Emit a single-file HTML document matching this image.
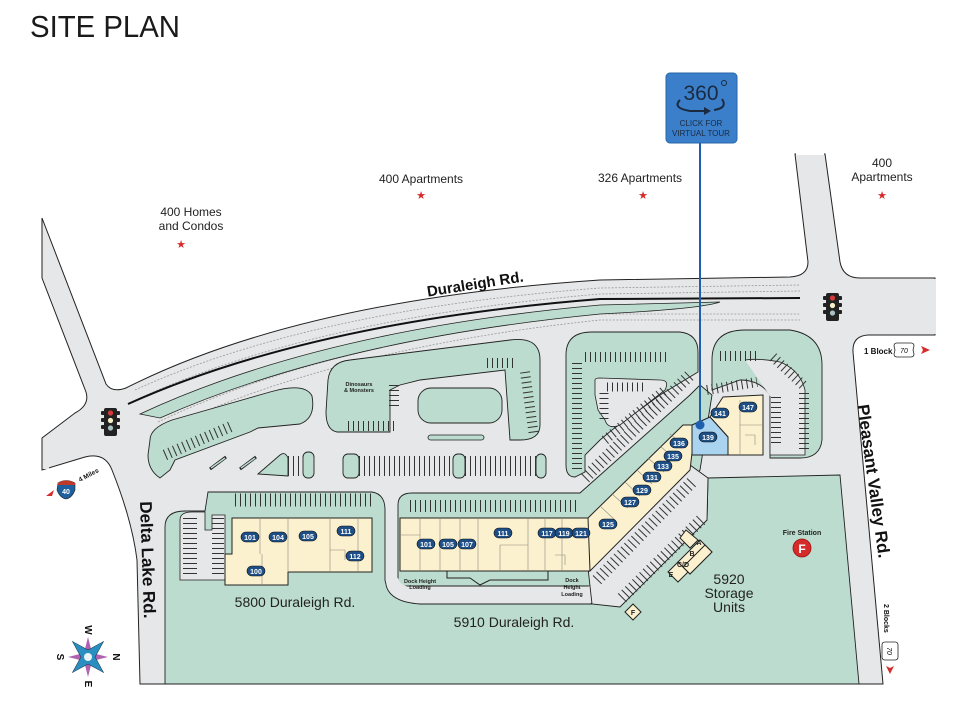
<!DOCTYPE html>
<html><head><meta charset="utf-8"><style>
html,body{margin:0;padding:0;background:#fff}
svg{display:block}
text{font-family:"Liberation Sans",sans-serif}
</style></head><body>
<svg width="980" height="706" viewBox="0 0 980 706" xmlns="http://www.w3.org/2000/svg">
<rect width="980" height="706" fill="#fff"/>
<text x="30" y="37" font-size="31" fill="#1a1a1a" textLength="150" lengthAdjust="spacingAndGlyphs">SITE PLAN</text>

<path d="M42,218 L106,384 Q112,393 126,388 Q300,300 600,280 L790,277 Q808,276 808,262 L795,154 L825,154 L840,262 Q843,278 860,278 L935,278 L935,335 L868,335 Q852,336 853,352 L883,684 L140,684 L137,560 Q132,520 112,470 Q105,452 85,457 L42,470 L42,438 L75,413 Q90,405 86,392 L42,278 Z" fill="#e6e7e8" stroke="#222" stroke-width="1"/>
<rect x="43" y="439" width="6" height="30" fill="#e6e7e8"/>
<rect x="934" y="279" width="2" height="55" fill="#e6e7e8"/>
<rect x="796" y="150" width="28" height="5" fill="#fff"/>

<g fill="none" stroke="#999" stroke-width="0.8" stroke-dasharray="2,1.5">
<path d="M135,390 Q310,310 600,288 L800,285"/>
<path d="M140,398 Q315,318 600,294 L800,291"/>
<path d="M158,422 Q330,340 600,314 L800,314"/>
<path d="M163,430 Q335,348 600,320 L800,320"/>
</g>
<path d="M128,404 Q310,322 600,299 L800,298" fill="none" stroke="#111" stroke-width="2"/>
<path d="M140,414 Q320,330 600,305 L720,302 Q700,309 600,314 Q335,340 160,418 Z" fill="#bcdccf" stroke="#222" stroke-width="0.8"/>

<path d="M165,684 L165,527 Q165,511 185,511 L205,511 L208,492 L372,492 Q385,494 385,510 L385,580 Q388,600 420,603 L600,603 L620,600 L707,520 L708,478 L840,475 L859,684 Z" fill="#bcdccf" stroke="#222" stroke-width="0.9"/>
<path d="M398,505 Q398,493 412,493 L580,493 L690,395 L700,385 L712,395 L700,470 L620,570 L590,586 L398,586 Z" fill="#bcdccf" stroke="#222" stroke-width="0.9"/>
<path d="M398,578 Q400,588 420,588 L585,588 L625,570 L590,604 L420,604 Q390,602 386,585 Z" fill="#e6e7e8"/>
<path d="M386,585 Q390,602 420,604 L595,604" fill="none" stroke="#222" stroke-width="0.9"/>
<path d="M588,568 L690,465 L708,478 L707,520 L620,607 L592,604 Z" fill="#e6e7e8" stroke="#222" stroke-width="0.9"/>
<path d="M180,520 Q180,512 192,512 L205,512 L205,530 L212,530 L212,515 L225,515 L225,580 L180,580 Z" fill="#e6e7e8" stroke="#222" stroke-width="0.8"/>

<path d="M160,478 Q148,470 148,455 L150,440 Q150,428 172,420 L270,392 Q305,382 312,396 Q316,418 300,424 L258,428 L250,432 L175,460 L170,470 Z" fill="#bcdccf" stroke="#222" stroke-width="0.9"/>
<path d="M337,432 Q326,430 326,412 L328,380 Q330,362 350,360 L510,340 Q540,336 540,360 L540,425 Q540,440 520,440 L510,440 L505,370 L420,380 L400,385 L390,390 L390,432 L375,432 Z" fill="#bcdccf" stroke="#222" stroke-width="0.9"/>
<rect x="418" y="388" width="84" height="35" rx="13" fill="#bcdccf" stroke="#222" stroke-width="0.9"/>
<rect x="428" y="435" width="56" height="5" rx="2.5" fill="#bcdccf" stroke="#222" stroke-width="0.8"/>
<path d="M575,477 Q566,477 566,465 L566,355 Q566,332 592,332 L680,332 Q698,334 698,352 L698,372 L660,395 L612,430 L600,440 L585,455 L585,472 Z" fill="#bcdccf" stroke="#222" stroke-width="0.9"/>
<path d="M595,395 L595,380 Q595,378 600,378 L660,380 Q670,380 665,390 L620,425 Q608,430 605,420 L598,410 Z" fill="#e6e7e8" stroke="#222" stroke-width="0.8"/>
<path d="M712,360 Q712,330 745,330 L790,330 Q822,335 822,365 L822,440 Q820,458 800,458 L770,458 L770,395 Q760,380 740,380 L712,390 Z" fill="#bcdccf" stroke="#222" stroke-width="0.9"/>
<path d="M770,396 L770,455 L805,455 L805,390 Q800,370 780,362 Q760,358 745,360" fill="#e6e7e8" stroke="#222" stroke-width="0.8"/>
<rect x="343" y="454" width="16" height="24" rx="5" fill="#bcdccf" stroke="#222" stroke-width="0.9"/>
<rect x="453" y="454" width="12" height="24" rx="5" fill="#bcdccf" stroke="#222" stroke-width="0.9"/>
<rect x="536" y="454" width="10" height="24" rx="5" fill="#bcdccf" stroke="#222" stroke-width="0.9"/>
<rect x="303" y="452" width="11" height="26" rx="5" fill="#bcdccf" stroke="#222" stroke-width="0.9"/>
<path d="M258,474 L280,455 Q285,451 288,458 L288,476 Z" fill="#bcdccf" stroke="#222" stroke-width="0.9"/>
<line x1="210" y1="469" x2="226" y2="457" stroke="#222" stroke-width="3"/><line x1="211" y1="468" x2="225" y2="458" stroke="#bcdccf" stroke-width="1.5"/>
<line x1="240" y1="469" x2="256" y2="457" stroke="#222" stroke-width="3"/><line x1="241" y1="468" x2="255" y2="458" stroke="#bcdccf" stroke-width="1.5"/>

<g stroke="#333" stroke-dasharray="1,4" fill="none">
<line x1="235" y1="500" x2="372" y2="500" stroke-width="13"/>
<line x1="410" y1="506" x2="580" y2="506" stroke-width="12"/>
<line x1="288" y1="466" x2="303" y2="466" stroke-width="20"/>
<line x1="359" y1="466" x2="453" y2="466" stroke-width="20"/>
<line x1="465" y1="466" x2="536" y2="466" stroke-width="20"/>
<line x1="190" y1="518" x2="190" y2="578" stroke-width="14"/>
<line x1="218" y1="518" x2="218" y2="578" stroke-width="12"/>
<line x1="165" y1="455" x2="232" y2="426" stroke-width="11"/>
<line x1="348" y1="426" x2="395" y2="426" stroke-width="10"/>
<line x1="394" y1="385" x2="394" y2="408" stroke-width="10"/>
<line x1="487" y1="363" x2="517" y2="363" stroke-width="10"/>
<line x1="525" y1="372" x2="534" y2="436" stroke-width="10"/>
<line x1="585" y1="357" x2="670" y2="357" stroke-width="10"/>
<line x1="577" y1="363" x2="577" y2="470" stroke-width="10"/>
<line x1="607" y1="387" x2="647" y2="387" stroke-width="9"/>
<line x1="604" y1="393" x2="604" y2="423" stroke-width="9"/>
<line x1="585" y1="478" x2="690" y2="375" stroke-width="12"/>
<line x1="605" y1="440" x2="665" y2="390" stroke-width="10"/>
<line x1="597" y1="580" x2="692" y2="482" stroke-width="12"/>
<line x1="622" y1="598" x2="703" y2="518" stroke-width="12"/>
<line x1="720" y1="356" x2="760" y2="356" stroke-width="10"/>
<line x1="773" y1="357" x2="803" y2="385" stroke-width="10"/>
<line x1="804" y1="393" x2="804" y2="453" stroke-width="10"/>
<line x1="776" y1="397" x2="776" y2="447" stroke-width="10"/>
<line x1="707" y1="390" x2="757" y2="382" stroke-width="10"/>
</g>

<g fill="#fcf1cf" stroke="#222" stroke-width="1">
<path d="M232,518 L372,518 L372,572 L288,572 L288,585 L225,585 L225,554 L232,554 Z"/>
<rect x="400" y="518" width="190" height="53"/>
<path d="M447,571 L548,571 L548,580 L490,580 L480,585 L470,578 L447,578 Z" fill="#bcdccf"/>
<path d="M588,518 L683,425 L692,425 L692,453 L690,470 L590,571 Z"/>
<path d="M710,417 L723,397 L763,395 L763,455 L728,455 L728,437 Z"/>
</g>
<path d="M692,425 L710,417 L728,437 L728,455 L692,455 Z" fill="#a9d3ee" stroke="#222" stroke-width="1"/>
<g stroke="#8a8a80" stroke-width="0.6" fill="none">
<path d="M260,518V554M288,518V572M330,518V572M358,518V572M262,554V585M400,535H420M420,518V571M440,518V571M460,518V571M478,518V571M528,518V571M545,518V571M562,518V571M500,545H528M500,545V571M330,550H345V560M555,555H565V565"/>
<path d="M600,506L615,520M612,494L628,508M625,482L640,496M637,470L652,484M648,458L664,472M660,446L676,460M670,434L686,448M740,400V455M740,425H763M745,435H755V445"/>
</g>
<g fill="#fcf1cf" stroke="#222" stroke-width="1">
<path d="M668,572 L678,562 L688,572 L678,582 Z"/>
<path d="M678,562 L700,540 L712,552 L690,574 Z"/>
<path d="M690,574 L712,552 L705,545 L683,567 Z"/>
<path d="M686,530 L698,540 L690,548 L680,538 Z"/>
<path d="M625,612 L633,604 L641,612 L633,620 Z"/>
</g>
<g font-size="7" font-weight="bold" fill="#222" text-anchor="middle">
<text x="699" y="545">A</text><text x="692" y="556">B</text><text x="683" y="567">C/D</text><text x="671" y="577">E</text><text x="633" y="615">F</text>
</g>

<g font-size="7" font-weight="bold" fill="#fff" text-anchor="middle">
<g fill="#1d4f86" stroke="#111" stroke-width="0.6">
<rect x="241" y="532" width="18" height="10" rx="5"/><rect x="269" y="532" width="18" height="10" rx="5"/><rect x="299" y="531" width="18" height="10" rx="5"/><rect x="337" y="526" width="18" height="10" rx="5"/><rect x="346" y="551" width="18" height="10" rx="5"/><rect x="247" y="566" width="18" height="10" rx="5"/>
<rect x="417" y="539" width="18" height="10" rx="5"/><rect x="439" y="539" width="18" height="10" rx="5"/><rect x="458" y="539" width="18" height="10" rx="5"/><rect x="494" y="528" width="18" height="10" rx="5"/><rect x="538" y="528" width="18" height="10" rx="5"/><rect x="555" y="528" width="18" height="10" rx="5"/><rect x="572" y="528" width="18" height="10" rx="5"/>
<rect x="599" y="519" width="18" height="10" rx="5"/><rect x="621" y="497" width="18" height="10" rx="5"/><rect x="633" y="485" width="18" height="10" rx="5"/><rect x="643" y="472" width="18" height="10" rx="5"/><rect x="654" y="461" width="18" height="10" rx="5"/><rect x="664" y="451" width="18" height="10" rx="5"/><rect x="670" y="438" width="18" height="10" rx="5"/><rect x="699" y="432" width="18" height="10" rx="5"/><rect x="711" y="408" width="18" height="10" rx="5"/><rect x="739" y="402" width="18" height="10" rx="5"/>
</g>
<text x="250" y="540">101</text><text x="278" y="540">104</text><text x="308" y="539">105</text><text x="346" y="534">111</text><text x="355" y="559">112</text><text x="256" y="574">100</text>
<text x="426" y="547">101</text><text x="448" y="547">105</text><text x="467" y="547">107</text><text x="503" y="536">111</text><text x="547" y="536">117</text><text x="564" y="536">119</text><text x="581" y="536">121</text>
<text x="608" y="527">125</text><text x="630" y="505">127</text><text x="642" y="493">129</text><text x="652" y="480">131</text><text x="663" y="469">133</text><text x="673" y="459">135</text><text x="679" y="446">136</text><text x="708" y="440">139</text><text x="720" y="416">141</text><text x="748" y="410">147</text>
</g>

<g font-size="5.5" font-weight="bold" fill="#222" text-anchor="middle">
<text x="359" y="386">Dinosaurs</text><text x="359" y="392">&amp; Monsters</text>
<text x="420" y="583">Dock Height</text><text x="420" y="589">Loading</text>
<text x="572" y="582">Dock</text><text x="572" y="589">Height</text><text x="572" y="596">Loading</text>
</g>
<text x="802" y="535" font-size="7" font-weight="bold" fill="#222" text-anchor="middle">Fire Station</text>
<circle cx="802" cy="548" r="9" fill="#d62b2b" stroke="#911" stroke-width="0.8"/>
<text x="802" y="553" font-size="12" font-weight="bold" fill="#fff" text-anchor="middle">F</text>

<g fill="#222" font-size="14" text-anchor="middle">
<text x="295" y="607">5800 Duraleigh Rd.</text>
<text x="514" y="627">5910 Duraleigh Rd.</text>
<text x="729" y="584">5920</text><text x="729" y="598">Storage</text><text x="729" y="612">Units</text>
</g>
<g fill="#222" font-size="12" text-anchor="middle">
<text x="191" y="216">400 Homes</text><text x="191" y="230">and Condos</text>
<text x="421" y="183">400 Apartments</text>
<text x="640" y="182">326 Apartments</text>
<text x="882" y="167">400</text><text x="882" y="181">Apartments</text>
</g>
<g fill="#d62b2b" font-size="11" text-anchor="middle">
<text x="181" y="248">★</text><text x="421" y="199">★</text><text x="643" y="199">★</text><text x="882" y="199">★</text>
</g>
<text transform="translate(476,289) rotate(-9)" font-size="15" font-weight="bold" fill="#111" text-anchor="middle">Duraleigh Rd.</text>
<text transform="translate(868,482) rotate(82)" font-size="17" font-weight="bold" fill="#111" text-anchor="middle">Pleasant Valley Rd.</text>
<text transform="translate(142,560) rotate(88)" font-size="17" font-weight="bold" fill="#111" text-anchor="middle">Delta Lake Rd.</text>
<text x="864" y="354" font-size="8" font-weight="bold" fill="#111">1 Block</text>
<path d="M897,343 h14 q3,0 3,3 l-1,4 1,4 q0,3-3,3 h-14 q-3,0-3-3 l1-4-1-4 q0-3 3-3z" fill="#fff" stroke="#222" stroke-width="0.8"/>
<text x="904" y="353" font-size="7" font-style="italic" fill="#111" text-anchor="middle">70</text>
<path d="M921,346 L930,350 L921,354 L923,350 Z" fill="#d62b2b"/>
<text transform="translate(884,604) rotate(90)" font-size="7" font-weight="bold" fill="#111">2 Blocks</text>
<path d="M885,642 h10 q3,0 3,3 v12 q0,3-3,3 h-10 q-3,0-3-3 v-12 q0-3 3-3z" fill="#fff" stroke="#222" stroke-width="0.8"/>
<text transform="translate(887,651) rotate(90)" font-size="7" font-style="italic" fill="#111" text-anchor="middle">70</text>
<path d="M886,666 L890,674 L894,666 L890,668 Z" fill="#d62b2b"/>
<text transform="translate(80,482) rotate(-28)" font-size="6.5" font-weight="bold" fill="#111">4 Miles</text>
<path d="M58,483 Q66,478 75,483 L75,490 Q72,498 66,499 Q60,498 57,490 Z" fill="#1e5fa0" stroke="#222" stroke-width="0.6"/>
<path d="M58,483 Q66,478 75,483 L75,485 L57,485 Z" fill="#c0392b"/>
<text x="66" y="494" font-size="7" font-weight="bold" fill="#fff" text-anchor="middle">40</text>
<path d="M46,496 L54,490 L52,496 Z" fill="#d62b2b"/>

<g>
<rect x="104" y="408" width="13" height="28" rx="2" fill="#222"/>
<rect x="101" y="411" width="19" height="4" rx="1" fill="#222"/><rect x="101" y="418" width="19" height="4" rx="1" fill="#222"/><rect x="101" y="425" width="19" height="4" rx="1" fill="#222"/>
<circle cx="110.5" cy="413" r="2.6" fill="#d63b3b"/><circle cx="110.5" cy="420.5" r="2.6" fill="#f6f0c8"/><circle cx="110.5" cy="428" r="2.6" fill="#a9c1c2"/>
<rect x="826" y="293" width="13" height="28" rx="2" fill="#222"/>
<rect x="823" y="296" width="19" height="4" rx="1" fill="#222"/><rect x="823" y="303" width="19" height="4" rx="1" fill="#222"/><rect x="823" y="310" width="19" height="4" rx="1" fill="#222"/>
<circle cx="832.5" cy="298" r="2.6" fill="#d63b3b"/><circle cx="832.5" cy="305.5" r="2.6" fill="#f6f0c8"/><circle cx="832.5" cy="313" r="2.6" fill="#a9c1c2"/>
</g>

<g transform="translate(88,657)">
<path d="M0,-20 L4,-4 L20,0 L4,4 L0,20 L-4,4 L-20,0 L-4,-4 Z" fill="#b062b0"/>
<path d="M0,-22 L5,-5 L22,0 L5,5 L0,22 L-5,5 L-22,0 L-5,-5 Z" fill="#2a8fc0" stroke="#134" stroke-width="0.5" transform="rotate(45)"/>
<circle r="4" fill="#e8f4f8"/>
<g font-size="10" font-weight="bold" fill="#111" text-anchor="middle">
<text transform="translate(0,-27) rotate(90)" y="3">W</text>
<text transform="translate(28,0) rotate(90)" y="3">N</text>
<text transform="translate(0,27) rotate(90)" y="3">E</text>
<text transform="translate(-28,0) rotate(90)" y="3">S</text>
</g>
</g>

<line x1="700" y1="143" x2="700" y2="425" stroke="#1f5fae" stroke-width="2"/>
<circle cx="700" cy="425" r="4.5" fill="#1f5fae"/>
<rect x="666" y="73" width="71" height="70" rx="4" fill="#3b7fcb" stroke="#2a66a8" stroke-width="1"/>
<text x="701" y="100" font-size="21" fill="#1a2a40" text-anchor="middle">360</text>
<circle cx="724" cy="83" r="2.5" fill="none" stroke="#1a2a40" stroke-width="1"/>
<path d="M680,100 Q672,108 690,111 L706,111" fill="none" stroke="#1a2a40" stroke-width="2"/>
<path d="M704,107 L711,111 L704,115 Z" fill="#1a2a40"/>
<path d="M714,110 Q728,108 722,99" fill="none" stroke="#1a2a40" stroke-width="2"/>
<text x="701" y="126" font-size="8" fill="#1a2a40" text-anchor="middle">CLICK FOR</text>
<text x="701" y="136" font-size="8" fill="#1a2a40" text-anchor="middle">VIRTUAL TOUR</text>
</svg>
</body></html>
